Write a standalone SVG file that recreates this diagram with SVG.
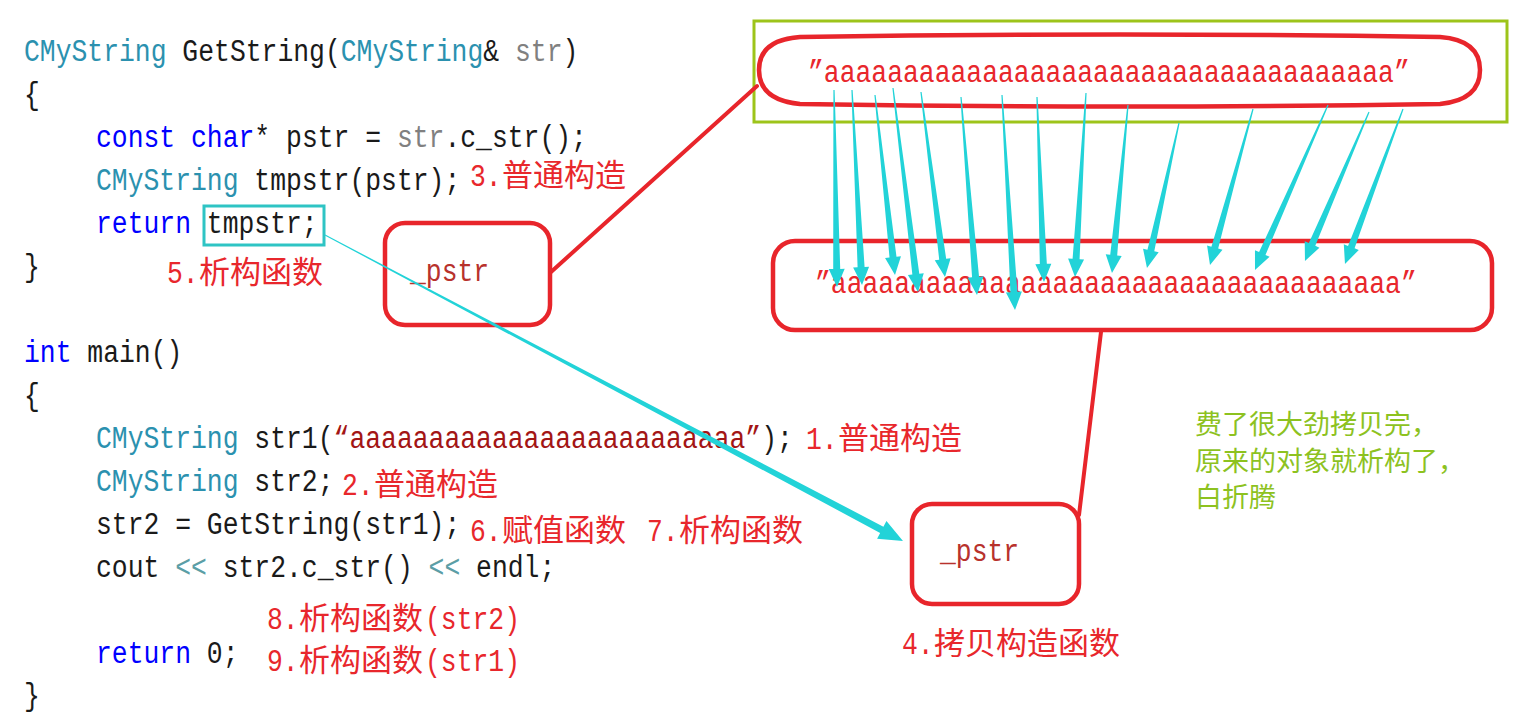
<svg xmlns="http://www.w3.org/2000/svg" width="1531" height="726" viewBox="0 0 1531 726">
<defs>
<style>
text{white-space:pre}
.c{font-family:"Liberation Mono","DejaVu Sans Mono",monospace;font-size:31px;fill:#1a1a1a}
.t{fill:#2b91af}
.k{fill:#0000ff}
.g{fill:#808080}
.s{fill:#a31515}
.o{fill:#5b9ea6}
.rm{font-family:"Liberation Mono","DejaVu Sans Mono",monospace;font-size:31px;fill:#e8272c}
.rc{font-family:"Noto Sans CJK SC","Noto Sans CJK JP",sans-serif;font-size:31px;fill:#e8272c}
.pm{font-family:"Liberation Mono","DejaVu Sans Mono",monospace;font-size:31px;fill:#b8322c}
.gr{font-family:"Noto Sans CJK SC","Noto Sans CJK JP",sans-serif;font-size:27px;fill:#8dc21f}
.rb{fill:none;stroke:#e8252b;stroke-width:4.5}
.rl{fill:none;stroke:#e8252b;stroke-width:4;stroke-linecap:round}
.ar{fill:#22d3d8}
</style>
</defs>
<rect width="1531" height="726" fill="#ffffff"/>

<g id="code" transform="scale(0.8516,1)">
<text class="c" x="28.18" y="61"><tspan class="t">CMyString</tspan> GetString(<tspan class="t">CMyString</tspan>&amp; <tspan class="g">str</tspan>)</text>
<text class="c" x="28.18" y="104">{</text>
<text class="c" x="112.73" y="147"><tspan class="k">const</tspan> <tspan class="k">char</tspan>* pstr = <tspan class="g">str</tspan>.c_str();</text>
<text class="c" x="112.73" y="190"><tspan class="t">CMyString</tspan> tmpstr(pstr);</text>
<text class="c" x="112.73" y="233"><tspan class="k">return</tspan> tmpstr;</text>
<text class="c" x="28.18" y="276">}</text>
<text class="c" x="28.18" y="362"><tspan class="k">int</tspan> main()</text>
<text class="c" x="28.18" y="405">{</text>
<text class="c" x="112.73" y="448"><tspan class="t">CMyString</tspan> str1(<tspan class="s">“aaaaaaaaaaaaaaaaaaaaaaaaa”</tspan>);</text>
<text class="c" x="112.73" y="491"><tspan class="t">CMyString</tspan> str2;</text>
<text class="c" x="112.73" y="534">str2 = GetString(str1);</text>
<text class="c" x="112.73" y="577">cout <tspan class="o">&lt;&lt;</tspan> str2.c_str() <tspan class="o">&lt;&lt;</tspan> endl;</text>
<text class="c" x="112.73" y="663"><tspan class="k">return</tspan> 0;</text>
<text class="c" x="28.18" y="705">}</text>
</g>

<g id="labels">
<text class="rm" transform="translate(470,186) scale(0.8516,1)">3.</text>
<text class="rc" x="502" y="186">普通构造</text>
<text class="rm" transform="translate(167,283) scale(0.8516,1)">5.</text>
<text class="rc" x="199" y="283">析构函数</text>
<text class="rm" transform="translate(806,449) scale(0.8516,1)">1.</text>
<text class="rc" x="838" y="449">普通构造</text>
<text class="rm" transform="translate(342,495) scale(0.8516,1)">2.</text>
<text class="rc" x="374" y="495">普通构造</text>
<text class="rm" transform="translate(470,541) scale(0.8516,1)">6.</text>
<text class="rc" x="502" y="541">赋值函数</text>
<text class="rm" transform="translate(647,541) scale(0.8516,1)">7.</text>
<text class="rc" x="679" y="541">析构函数</text>
<text class="rm" transform="translate(267,629) scale(0.8516,1)">8.</text>
<text class="rc" x="299" y="629">析构函数</text>
<text class="rm" transform="translate(425,629) scale(0.8516,1)">(str2)</text>
<text class="rm" transform="translate(267,671) scale(0.8516,1)">9.</text>
<text class="rc" x="299" y="671">析构函数</text>
<text class="rm" transform="translate(425,671) scale(0.8516,1)">(str1)</text>
<text class="rm" transform="translate(902,654) scale(0.8516,1)">4.</text>
<text class="rc" x="934" y="654">拷贝构造函数</text>
</g>

<g id="note">
<text class="gr" x="1195" y="434">费了很大劲拷贝完，</text>
<text class="gr" x="1195" y="471">原来的对象就析构了，</text>
<text class="gr" x="1195" y="507">白折腾</text>
</g>

<g id="tmpstr-box">
<rect x="204" y="206" width="120" height="39" fill="none" stroke="#2ec4c4" stroke-width="3"/>
</g>

<g id="pstr-left">
<rect class="rb" x="385" y="223" width="165" height="102" rx="20"/>
<text class="pm" transform="translate(410,281) scale(0.8516,1)">_pstr</text>
</g>

<g id="pstr-right">
<rect class="rb" x="912" y="504" width="167" height="100" rx="20"/>
<text class="pm" transform="translate(940,561) scale(0.8516,1)">_pstr</text>
</g>

<g id="source-string">
<rect x="754" y="21" width="753" height="101" fill="none" stroke="#9dc41a" stroke-width="3"/>
<path class="rb" stroke-width="5.5" d="M800,37 Q1120,32 1440,37 Q1480,40 1480,70 Q1480,100 1440,104 Q1120,109 800,104 Q759,100 759,70 Q759,40 800,37 Z"/>
<text class="rm" transform="translate(808,82) scale(0.8516,1)">”aaaaaaaaaaaaaaaaaaaaaaaaaaaaaaaaaaaa”</text>
</g>

<g id="copied-string">
<rect class="rb" x="773" y="241" width="719" height="89" rx="22"/>
<text class="rm" transform="translate(815,293) scale(0.8516,1)">”aaaaaaaaaaaaaaaaaaaaaaaaaaaaaaaaaaaa”</text>
</g>

<g id="connectors">
<line class="rl" x1="551" y1="272" x2="757" y2="86"/>
<line class="rl" x1="1101" y1="332" x2="1079" y2="515"/>
<path class="ar" transform="translate(325,235) rotate(-62.1)" d="M-0.5,0 L0.5,0 L3.5,630 L10,630 L0,654 L-10,630 L-3.5,630 Z"/>
<path class="ar" transform="translate(834,90) rotate(-0.87)" d="M-0.6,0 L0.6,0 L3.5,179 L8,179 L0,197 L-8,179 L-3.5,179 Z"/>
<path class="ar" transform="translate(852,90) rotate(-2.94)" d="M-0.6,0 L0.6,0 L3.5,177.3 L8,177.3 L0,195.3 L-8,177.3 L-3.5,177.3 Z"/>
<path class="ar" transform="translate(875,95) rotate(-6.34)" d="M-0.6,0 L0.6,0 L3.5,163.1 L8,163.1 L0,181.1 L-8,163.1 L-3.5,163.1 Z"/>
<path class="ar" transform="translate(893,88) rotate(-6.99)" d="M-0.6,0 L0.6,0 L3.5,187.5 L8,187.5 L0,205.5 L-8,187.5 L-3.5,187.5 Z"/>
<path class="ar" transform="translate(921,92) rotate(-7.39)" d="M-0.6,0 L0.6,0 L3.5,168.6 L8,168.6 L0,186.6 L-8,168.6 L-3.5,168.6 Z"/>
<path class="ar" transform="translate(961,97) rotate(-4.62)" d="M-0.6,0 L0.6,0 L3.5,180.6 L8,180.6 L0,198.6 L-8,180.6 L-3.5,180.6 Z"/>
<path class="ar" transform="translate(1002,95) rotate(-3.46)" d="M-0.6,0 L0.6,0 L3.5,197.4 L8,197.4 L0,215.4 L-8,197.4 L-3.5,197.4 Z"/>
<path class="ar" transform="translate(1037,97) rotate(-2.17)" d="M-0.6,0 L0.6,0 L3.5,167.1 L8,167.1 L0,185.1 L-8,167.1 L-3.5,167.1 Z"/>
<path class="ar" transform="translate(1086,93) rotate(3.42)" d="M-0.6,0 L0.6,0 L3.5,166.3 L8,166.3 L0,184.3 L-8,166.3 L-3.5,166.3 Z"/>
<path class="ar" transform="translate(1128,105) rotate(5.44)" d="M-0.6,0 L0.6,0 L3.5,150.8 L8,150.8 L0,168.8 L-8,150.8 L-3.5,150.8 Z"/>
<path class="ar" transform="translate(1179,123) rotate(12.45)" d="M-0.6,0 L0.6,0 L3.5,130.5 L8,130.5 L0,148.5 L-8,130.5 L-3.5,130.5 Z"/>
<path class="ar" transform="translate(1253,109) rotate(15.41)" d="M-0.6,0 L0.6,0 L3.5,143.8 L8,143.8 L0,161.8 L-8,143.8 L-3.5,143.8 Z"/>
<path class="ar" transform="translate(1328,105) rotate(23.87)" d="M-0.6,0 L0.6,0 L3.5,162.4 L8,162.4 L0,180.4 L-8,162.4 L-3.5,162.4 Z"/>
<path class="ar" transform="translate(1369,112) rotate(23.25)" d="M-0.6,0 L0.6,0 L3.5,144.2 L8,144.2 L0,162.2 L-8,144.2 L-3.5,144.2 Z"/>
<path class="ar" transform="translate(1403,109) rotate(20.52)" d="M-0.6,0 L0.6,0 L3.5,147.5 L8,147.5 L0,165.5 L-8,147.5 L-3.5,147.5 Z"/>
</g>
</svg>
